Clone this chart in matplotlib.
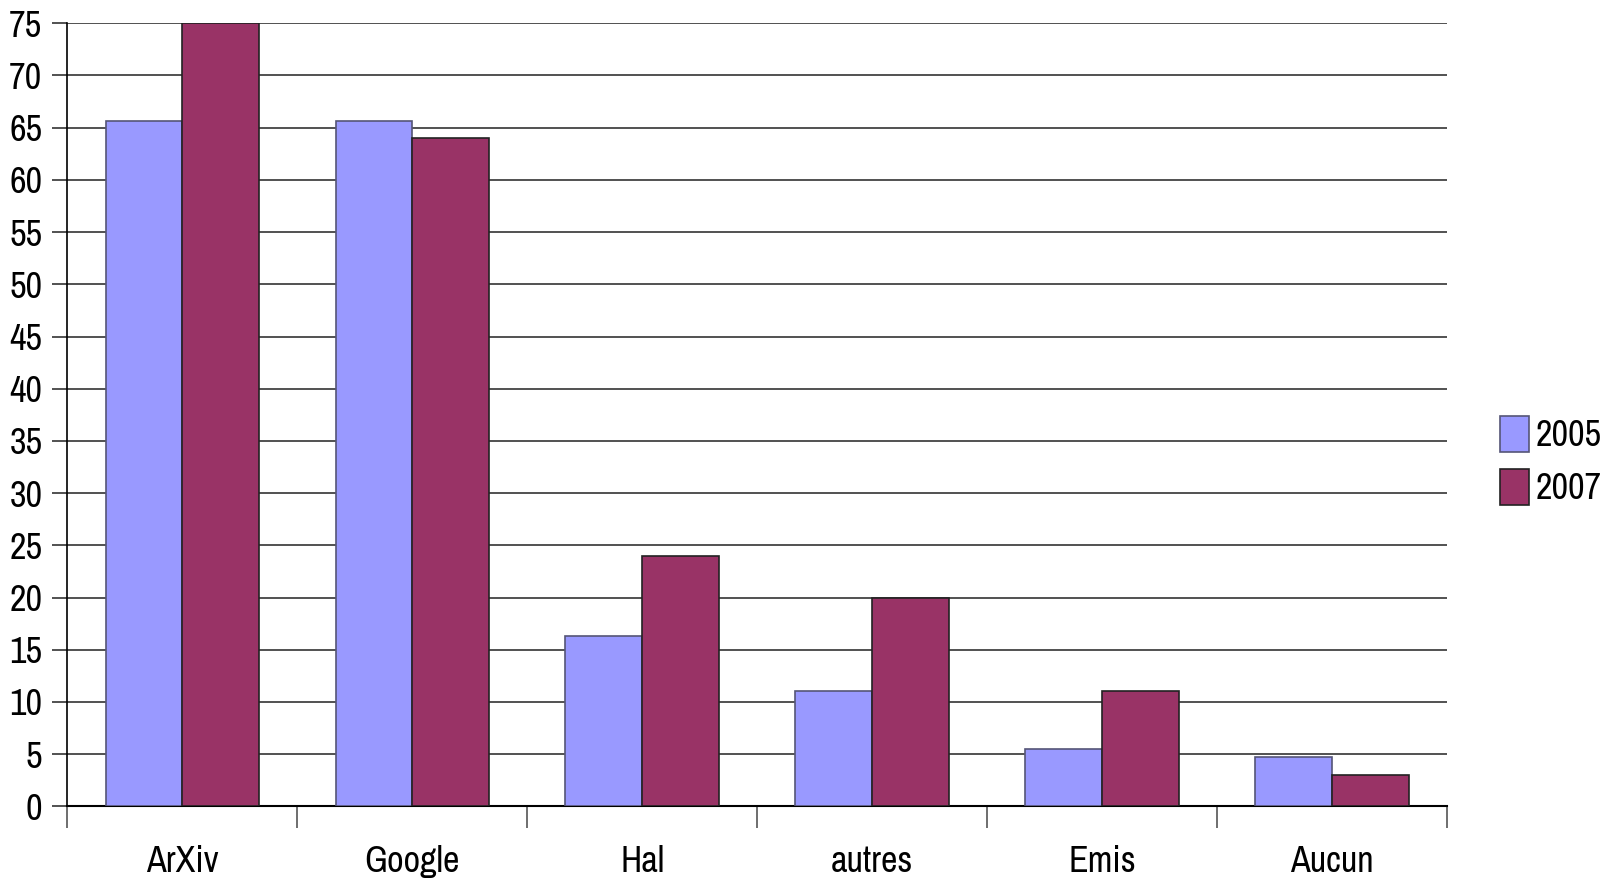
import matplotlib
matplotlib.use("Agg")
import matplotlib.pyplot as plt
import numpy as np

categories = ["ArXiv", "Google", "Hal", "autres", "Emis", "Aucun"]
series_names = ["2005", "2007"]
values_2005 = [65.6, 65.6, 16.3, 11.0, 5.5, 4.7]
values_2007 = [75.0, 64.0, 24.0, 20.0, 11.0, 3.0]
yticks = list(range(0, 80, 5))

plt.rcParams['font.family'] = ['Archivo Narrow', 'Liberation Sans', 'DejaVu Sans']

fig = plt.figure(figsize=(16.09, 8.82), dpi=100)
ax = fig.add_axes([0.0418, 0.0858, 0.8575, 0.8878])

x = np.arange(len(categories))
w = 1/3
ax.bar(x - w/2, values_2005, w, color='#9999FF', edgecolor='#555577', linewidth=1.2,
       label=series_names[0], zorder=3)
ax.bar(x + w/2, values_2007, w, color='#993366', edgecolor='#222222', linewidth=1.2,
       label=series_names[1], zorder=3)

ax.set_xlim(-0.5, len(categories) - 0.5)
ax.set_ylim(0, 75)
ax.set_yticks(yticks)
ax.set_yticklabels([str(t) for t in yticks], fontsize=26)
ax.yaxis.grid(True, color='#333333', linewidth=1.2, zorder=0)
ax.set_axisbelow(True)

ax.set_xticks(x)
ax.set_xticklabels(categories, fontsize=26)
ax.tick_params(axis='x', which='major', length=0, pad=28)
ax.set_xticks(np.arange(-0.5, len(categories) + 0.5, 1), minor=True)
ax.tick_params(axis='x', which='minor', length=16, width=1.2, color='#555555', direction='out')
ax.tick_params(axis='y', length=11, width=1.2, color='#333333', pad=7)

for s in ['top', 'right']:
    ax.spines[s].set_visible(False)
ax.spines['left'].set_color('black')
ax.spines['left'].set_linewidth(1.2)
ax.spines['bottom'].set_color('black')
ax.spines['bottom'].set_linewidth(1.5)

fig.legend(loc='center left', bbox_to_anchor=(0.921, 0.478), frameon=False,
           fontsize=26, handlelength=0.8, handleheight=1.17, handletextpad=0.2,
           labelspacing=0.45, borderpad=0)

fig.savefig("out.png", dpi=100)
